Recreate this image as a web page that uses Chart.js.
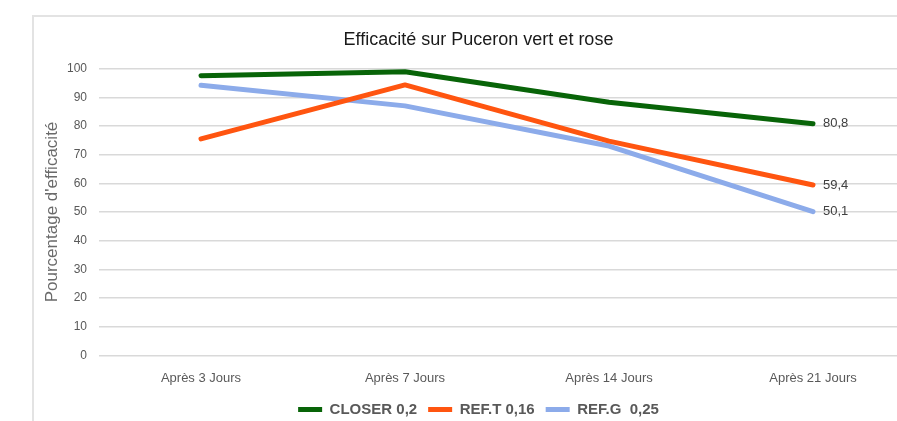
<!DOCTYPE html>
<html>
<head>
<meta charset="utf-8">
<script src="https://cdn.jsdelivr.net/npm/chart.js@4.4.1/dist/chart.umd.min.js"></script>
<style>
    html, body { margin: 0; padding: 0; background: #fff; overflow: hidden; width: 897px; height: 421px; }
    #frame { position: absolute; left: 32px; top: 15px; width: 900px; height: 420px;
             border-left: 2px solid #e3e3e3; border-top: 2px solid #e3e3e3; }
    #wrap { position: absolute; left: 0; top: 0; width: 960px; height: 421px; }
</style>
</head>
<body>
<div id="frame"></div>
<div id="wrap"><canvas id="chart"></canvas></div>
<script>
var categories = ["Après 3 Jours", "Après 7 Jours", "Après 14 Jours", "Après 21 Jours"];
var closer = [97.5, 98.9, 88.3, 80.8];
var refT = [75.5, 94.3, 74.7, 59.4];
var refG = [94.2, 87.0, 73.0, 50.1];
var yTicks = [0, 10, 20, 30, 40, 50, 60, 70, 80, 90, 100];

Chart.defaults.font.family = "'Liberation Sans', Arial, sans-serif";
Chart.defaults.color = "#595959";

// labels only on the last point of each line
var lastLabels = {
    id: "lastLabels",
    afterDatasetsDraw: function(chart) {
        var ctx = chart.ctx;
        ctx.save();
        ctx.font = "13px 'Liberation Sans', Arial, sans-serif";
        ctx.fillStyle = "#404040";
        ctx.textBaseline = "middle";
        chart.data.datasets.forEach(function(ds, i) {
            var meta = chart.getDatasetMeta(i);
            var n = ds.data.length - 1;
            var pt = meta.data[n];
            ctx.fillText(String(ds.data[n]).replace(".", ","), pt.x + 10, pt.y);
        });
        ctx.restore();
    }
};

function line(label, data, color) {
    return {
        label: label,
        data: data,
        borderColor: color,
        backgroundColor: color,
        borderWidth: 5,
        borderCapStyle: "round",
        borderJoinStyle: "round",
        pointRadius: 0,
        pointStyle: "line",
        tension: 0
    };
}

new Chart(document.getElementById("chart").getContext("2d"), {
    type: "line",
    data: {
        labels: categories,
        datasets: [
            line("CLOSER 0,2", closer, "#086408"),
            line("REF.T 0,16", refT, "#ff5510"),
            line("REF.G  0,25", refG, "#8cabea")
        ]
    },
    options: {
        responsive: true,
        maintainAspectRatio: false,
        animation: false,
        layout: { padding: { left: 42, right: 45, top: 0, bottom: -6 } },
        plugins: {
            title: {
                display: true,
                text: "Efficacité sur Puceron vert et rose",
                color: "#1a1a1a",
                font: { size: 18, weight: "normal" },
                padding: { top: 29, bottom: 18 }
            },
            legend: {
                position: "bottom",
                labels: {
                    usePointStyle: true,
                    pointStyleWidth: 24,
                    boxHeight: 5,
                    padding: 11,
                    color: "#595959",
                    font: { size: 15, weight: "bold" }
                }
            },
            tooltip: { enabled: false }
        },
        scales: {
            x: {
                offset: true,
                grid: { display: false, drawTicks: false },
                border: { display: false },
                ticks: { padding: 15, font: { size: 13 }, color: "#595959" },
                afterFit: function(scale) { scale.height -= 10; }
            },
            y: {
                min: 0,
                max: 100,
                afterBuildTicks: function(scale) {
                    scale.ticks = yTicks.map(function(v) { return { value: v }; });
                },
                afterFit: function(scale) { scale.width = 57; },
                grid: { color: "#d9d9d9", lineWidth: 1.5, drawTicks: false },
                border: { display: false },
                ticks: { padding: 12, font: { size: 12 }, color: "#595959" },
                title: {
                    display: true,
                    text: "Pourcentage d'efficacité",
                    color: "#6a6a6a",
                    font: { size: 17 },
                    padding: { top: 0, bottom: 4 }
                }
            }
        }
    },
    plugins: [lastLabels]
});
</script>
</body>
</html>
